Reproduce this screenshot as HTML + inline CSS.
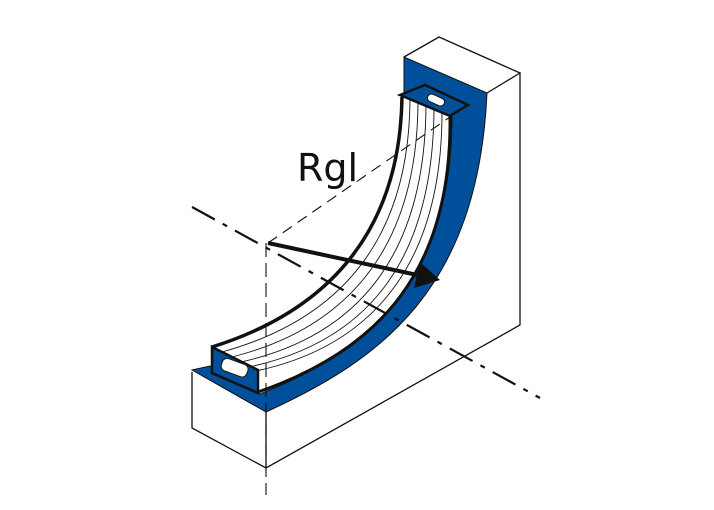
<!DOCTYPE html>
<html><head><style>html,body{margin:0;padding:0;background:#fff}svg{display:block}</style></head><body>
<svg width="714" height="510" viewBox="0 0 714 510" xmlns="http://www.w3.org/2000/svg">
<g fill="none" stroke="#111" stroke-width="1.3">
<!-- blocks -->
<path d="M404,57 L439,37 L520,73 L487,93" />
<path d="M520,73 L520,325 L266,468 L192,428 L192,372" />
<path d="M266,410 L266,468" />
</g>
<!-- blue face -->
<path d="M192,370 L266,412 C380,360 478,290 487,93 L404,57 L404,95 L452,116 C452,265 385,345 260,394 L210,366 Z" fill="#004f9a" stroke="#111" stroke-width="1"/>
<!-- strip white -->
<path d="M402,97 L450,116 C452,270 380,350 258,392 L212,372 L212,347 C330,310 400,230 402,97 Z" fill="#fff"/>
<g fill="none" stroke="#111">
<path d="M410,100 C409,235 345,318 222,352" stroke-width="0.9"/>
<path d="M418,103 C417,240 355,326 232,357" stroke-width="0.9"/>
<path d="M426,106 C425,246 366,334 241,362" stroke-width="0.9"/>
<path d="M434,109 C433,252 375,340 249,367" stroke-width="0.9"/>
<path d="M442,112 C442,258 378,345 256,371" stroke-width="0.9"/>
<path d="M402,97 C400,230 330,310 212,347" stroke-width="3.5"/>
<path d="M450,116 C452,270 380,350 258,392" stroke-width="3"/>
</g>
<!-- end faces -->
<path d="M400,95 L425,85 L468,105 L450,116 Z" fill="#004f9a" stroke="#111" stroke-width="2.5"/>
<rect x="427" y="96" width="18" height="8" rx="4" fill="#fff" stroke="#111" transform="rotate(24 436 100)"/>
<path d="M212,347 L258,370 L258,393 L212,373 Z" fill="#004f9a" stroke="#111" stroke-width="2.5"/>
<rect x="221" y="361" width="27" height="13" rx="5" fill="#fff" stroke="#111" transform="rotate(20 234 368)"/>
<!-- axes -->
<path d="M192,207 L540,398" stroke="#111" stroke-width="2.2" stroke-dasharray="26,9,5,9" fill="none"/>
<path d="M268,243 L450,117" stroke="#111" stroke-width="1.1" stroke-dasharray="11,7" fill="none"/>
<path d="M266,243 L266,495" stroke="#111" stroke-width="1.1" stroke-dasharray="14,6" fill="none"/>
<!-- arrow -->
<path d="M268,243 L422,276" stroke="#111" stroke-width="4" fill="none"/>
<path d="M440,280 L414,288 L420,262 Z" fill="#111"/>
<text x="297" y="181" font-family="'DejaVu Sans','Liberation Sans',sans-serif" font-size="38" fill="#111">Rgl</text>
</svg>
</body></html>
